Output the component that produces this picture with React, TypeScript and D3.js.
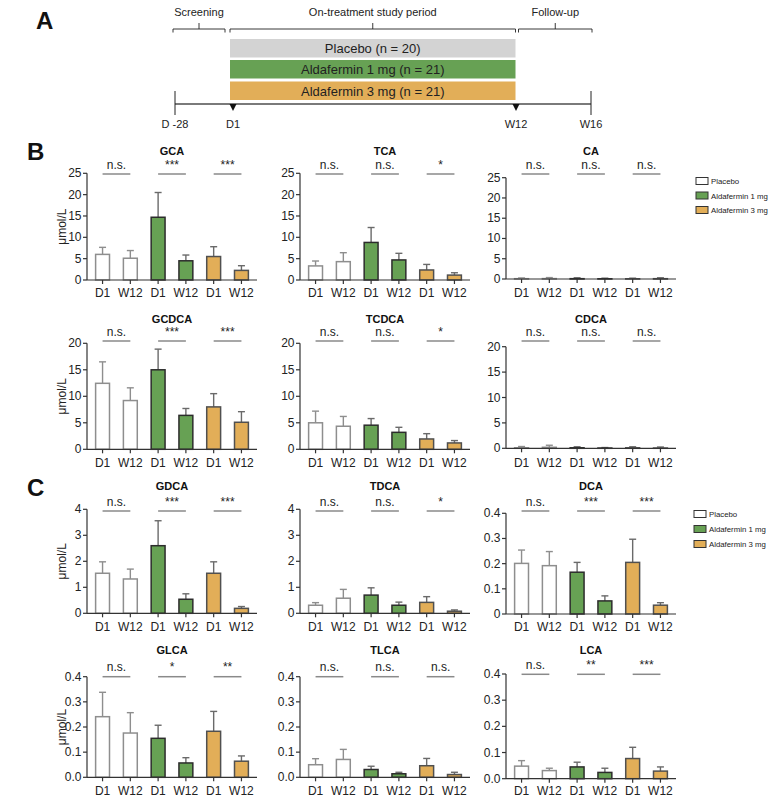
import React from "react";
import * as d3 from "d3";

const FONT = "'Liberation Sans', Arial, Helvetica, sans-serif";

// ---- Data ----
const categories = ["D1", "W12", "D1", "W12", "D1", "W12"];
const groups = ["Placebo", "Aldafermin 1 mg", "Aldafermin 3 mg"];
const groupOfBar = [0, 0, 1, 1, 2, 2];

const panelNames = ["GCA", "TCA", "CA", "GCDCA", "TCDCA", "CDCA", "GDCA", "TDCA", "DCA", "GLCA", "TLCA", "LCA"];

const gcaMean = [6.0, 5.1, 14.7, 4.5, 5.5, 2.25];
const gcaErr = [1.65, 1.8, 5.8, 1.35, 2.3, 1.1];
const tcaMean = [3.3, 4.3, 8.8, 4.7, 2.35, 1.15];
const tcaErr = [1.15, 2.1, 3.5, 1.55, 1.3, 0.55];
const caMean = [0.08, 0.1, 0.08, 0.06, 0.05, 0.08];
const caErr = [0.17, 0.25, 0.22, 0.14, 0.15, 0.22];
const gcdcaMean = [12.45, 9.2, 15.0, 6.4, 8.0, 5.1];
const gcdcaErr = [4.05, 2.4, 3.9, 1.3, 2.5, 2.0];
const tcdcaMean = [5.0, 4.35, 4.55, 3.2, 1.95, 1.2];
const tcdcaErr = [2.2, 1.85, 1.25, 0.95, 1.0, 0.45];
const cdcaMean = [0.1, 0.2, 0.1, 0.05, 0.1, 0.05];
const cdcaErr = [0.25, 0.4, 0.2, 0.1, 0.2, 0.2];
const gdcaMean = [1.54, 1.32, 2.6, 0.54, 1.54, 0.19];
const gdcaErr = [0.44, 0.38, 0.96, 0.21, 0.44, 0.07];
const tdcaMean = [0.31, 0.58, 0.7, 0.31, 0.42, 0.08];
const tdcaErr = [0.1, 0.34, 0.28, 0.12, 0.22, 0.05];
const dcaMean = [0.201, 0.192, 0.166, 0.052, 0.205, 0.035];
const dcaErr = [0.053, 0.056, 0.039, 0.02, 0.092, 0.01];
const glcaMean = [0.241, 0.176, 0.155, 0.057, 0.183, 0.064];
const glcaErr = [0.097, 0.081, 0.052, 0.021, 0.079, 0.021];
const tlcaMean = [0.05, 0.071, 0.031, 0.014, 0.046, 0.011];
const tlcaErr = [0.024, 0.04, 0.013, 0.006, 0.029, 0.009];
const lcaMean = [0.048, 0.031, 0.045, 0.024, 0.077, 0.029];
const lcaErr = [0.021, 0.009, 0.018, 0.016, 0.043, 0.016];

const panelMeans = [gcaMean, tcaMean, caMean, gcdcaMean, tcdcaMean, cdcaMean, gdcaMean, tdcaMean, dcaMean, glcaMean, tlcaMean, lcaMean];
const panelErrs = [gcaErr, tcaErr, caErr, gcdcaErr, tcdcaErr, cdcaErr, gdcaErr, tdcaErr, dcaErr, glcaErr, tlcaErr, lcaErr];

const panelSig = [
  ["n.s.", "***", "***"],
  ["n.s.", "n.s.", "*"],
  ["n.s.", "n.s.", "n.s."],
  ["n.s.", "***", "***"],
  ["n.s.", "n.s.", "*"],
  ["n.s.", "n.s.", "n.s."],
  ["n.s.", "***", "***"],
  ["n.s.", "n.s.", "*"],
  ["n.s.", "***", "***"],
  ["n.s.", "*", "**"],
  ["n.s.", "n.s.", "n.s."],
  ["n.s.", "**", "***"],
];

const yMaxB1 = 25;
const yTicksB1 = [0, 5, 10, 15, 20, 25];
const yMaxB2 = 20;
const yTicksB2 = [0, 5, 10, 15, 20];
const yMaxC1 = 4;
const yTicksC1 = [0, 1, 2, 3, 4];
const yMaxSmall = 0.4;
const yTicksSmall = [0, 0.1, 0.2, 0.3, 0.4];

const panelYMax = [yMaxB1, yMaxB1, yMaxB1, yMaxB2, yMaxB2, yMaxB2, yMaxC1, yMaxC1, yMaxSmall, yMaxSmall, yMaxSmall, yMaxSmall];
const panelTicks = [yTicksB1, yTicksB1, yTicksB1, yTicksB2, yTicksB2, yTicksB2, yTicksC1, yTicksC1, yTicksSmall, yTicksSmall, yTicksSmall, yTicksSmall];
const fmtInt = (d: number) => String(d);
const fmtDcaTick = (d: number) => (d === 0 ? "0" : d.toFixed(1));
const fmtOne = (d: number) => d.toFixed(1);
const panelFmt = [fmtInt, fmtInt, fmtInt, fmtInt, fmtInt, fmtInt, fmtInt, fmtInt, fmtDcaTick, fmtOne, fmtOne, fmtOne];

const timelineLabels = ["D -28", "D1", "W12", "W16"];
const timelineDays = [-28, 1, 84, 112];
const armLabels = ["Placebo (n = 20)", "Aldafermin 1 mg (n = 21)", "Aldafermin 3 mg (n = 21)"];
const periodLabels = ["Screening", "On-treatment study period", "Follow-up"];

// ---- Styles ----
const groupFill = ["#ffffff", "#67a154", "#e2ae58"];
const groupStroke = ["#8e8e8e", "#2c2c2c", "#505050"];
const errColor = ["#8e8e8e", "#6a6a6a", "#6a6a6a"];
const armFill = ["#d3d3d3", "#67a154", "#e2ae58"];

// ---- Layout ----
const colX = [87, 300, 506];
const PW = 170;
const rows = [
  { title: 155, sigText: 169, sigLine: 174, top: 173.3, bottom: 280, xlab: 297 },
  { title: 323, sigText: 336, sigLine: 341, top: 343.3, bottom: 449.3, xlab: 467 },
  { title: 490, sigText: 506, sigLine: 511, top: 509.3, bottom: 613.3, xlab: 631 },
  { title: 654, sigText: 671, sigLine: 676.7, top: 676.7, bottom: 777.3, xlab: 795 },
];
const col3Override = [
  { top: 177.7, bottom: 279 },
  { top: 346.7, bottom: 448.3 },
  { top: 513.3, bottom: 614 },
  { top: 674, bottom: 778.7, sigText: 669, sigLine: 674.3 },
];

function Panel({ idx }: { idx: number }) {
  const r = Math.floor(idx / 3);
  const c = idx % 3;
  const row = { ...rows[r], ...(c === 2 ? col3Override[r] : {}) } as any;
  const x0 = colX[c];
  const xb = d3.scaleBand<number>().domain(d3.range(6)).range([x0, x0 + PW]).paddingInner(0.5).paddingOuter(0.31);
  const y = d3.scaleLinear().domain([0, panelYMax[idx]]).range([row.bottom, row.top]);
  const means = panelMeans[idx];
  const errs = panelErrs[idx];
  const bw = xb.bandwidth();
  const cx = (i: number) => (xb(i) as number) + bw / 2;
  return (
    <g>
      <text x={x0 + PW / 2} y={row.title} textAnchor="middle" fontSize={11} fontWeight="bold" fontFamily={FONT} fill="#111">
        {panelNames[idx]}
      </text>
      {panelSig[idx].map((s, g) => {
        const a = cx(g * 2);
        const b = cx(g * 2 + 1);
        return (
          <g key={g}>
            <line x1={a} x2={b} y1={row.sigLine} y2={row.sigLine} stroke="#8a8a8a" strokeWidth={1.5} />
            <text x={(a + b) / 2} y={row.sigText} textAnchor="middle" fontSize={12} fontFamily={FONT} fill="#222">
              {s}
            </text>
          </g>
        );
      })}
      {means.map((m, i) => {
        const g = groupOfBar[i];
        const top = y(m);
        const et = y(m + errs[i]);
        return (
          <g key={i}>
            <line x1={cx(i)} x2={cx(i)} y1={top} y2={et} stroke={errColor[g]} strokeWidth={1.4} />
            <line x1={cx(i) - 3.5} x2={cx(i) + 3.5} y1={et} y2={et} stroke={errColor[g]} strokeWidth={1.4} />
            <rect x={xb(i)} y={top} width={bw} height={Math.max(0, row.bottom - top)} fill={groupFill[g]} stroke={groupStroke[g]} strokeWidth={1.5} />
          </g>
        );
      })}
      <line x1={x0} x2={x0} y1={row.top} y2={row.bottom} stroke="#333" strokeWidth={1.2} />
      {panelTicks[idx].map((t) => (
        <g key={t}>
          <line x1={x0 - 4} x2={x0} y1={y(t)} y2={y(t)} stroke="#333" strokeWidth={1.2} />
          <text x={x0 - 5.5} y={y(t) + 4} textAnchor="end" fontSize={12} fontFamily={FONT} fill="#222">
            {panelFmt[idx](t)}
          </text>
        </g>
      ))}
      <line x1={x0} x2={x0 + PW} y1={row.bottom} y2={row.bottom} stroke="#333" strokeWidth={1.2} />
      {categories.map((cat, i) => (
        <g key={i}>
          <line x1={cx(i)} x2={cx(i)} y1={row.bottom} y2={row.bottom + 4} stroke="#333" strokeWidth={1.2} />
          <text x={cx(i)} y={row.xlab} textAnchor="middle" fontSize={12} fontFamily={FONT} fill="#222">
            {cat}
          </text>
        </g>
      ))}
      {c === 0 && (
        <text transform={`translate(66,${(row.top + row.bottom) / 2}) rotate(-90)`} textAnchor="middle" fontSize={12} fontFamily={FONT} fill="#222">
          μmol/L
        </text>
      )}
    </g>
  );
}

function Legend({ x, y, gap }: { x: number; y: number; gap: number }) {
  return (
    <g>
      {groups.map((g, i) => (
        <g key={g}>
          <rect x={x} y={y + i * gap - 3.5} width={12} height={7} fill={groupFill[i]} stroke="#333" strokeWidth={1} />
          <text x={x + 15} y={y + i * gap + 3} fontSize={7.8} fontFamily={FONT} fill="#222">
            {g}
          </text>
        </g>
      ))}
    </g>
  );
}

function Timeline() {
  // study schedule is drawn schematically, not to scale
  const tx = d3.scaleLinear().domain(timelineDays).range([175, 233, 516, 591]);
  const xD1 = tx(timelineDays[1]);
  const xW12 = tx(timelineDays[2]);
  const xL = tx(timelineDays[0]);
  const xR = tx(timelineDays[3]);
  const barL = xD1 - 3;
  const barR = xW12 - 0.5;
  const brackets = [
    [xL - 2, xD1 - 8],
    [barL, barR],
    [barR + 3, xR + 1],
  ];
  const armY = [39, 60, 81.5];
  return (
    <g fontFamily={FONT}>
      <text x={36} y={29} fontSize={24} fontWeight="bold" fill="#111">A</text>
      {brackets.map(([a, b], i) => (
        <g key={i}>
          <path d={`M${a},32.5 V29 H${b} V32.5 M${(a + b) / 2},29 V23`} fill="none" stroke="#222" strokeWidth={0.9} />
          <text x={(a + b) / 2} y={16} textAnchor="middle" fontSize={11} fill="#222">
            {periodLabels[i]}
          </text>
        </g>
      ))}
      {armLabels.map((lab, i) => (
        <g key={i}>
          <rect x={barL} y={armY[i]} width={barR - barL} height={18.5} fill={armFill[i]} />
          <text x={(barL + barR) / 2} y={armY[i] + 14} textAnchor="middle" fontSize={13} fill="#222">
            {lab}
          </text>
        </g>
      ))}
      <line x1={xL} x2={xR} y1={104} y2={104} stroke="#7a7a7a" strokeWidth={2} />
      <line x1={xL} x2={xL} y1={91} y2={115} stroke="#222" strokeWidth={1} />
      <line x1={xR} x2={xR} y1={91} y2={115} stroke="#222" strokeWidth={1} />
      {[xD1, xW12].map((x, i) => (
        <path key={i} d={`M${x - 3.5},104 L${x + 3.5},104 L${x},111 Z`} fill="#111" />
      ))}
      {timelineDays.map((d, i) => (
        <text key={i} x={tx(d)} y={128} textAnchor="middle" fontSize={11} fill="#222">
          {timelineLabels[i]}
        </text>
      ))}
    </g>
  );
}

export default function App() {
  return (
    <svg width={771} height={802} viewBox="0 0 771 802" style={{ position: "absolute", left: 0, top: 0, background: "#fff" }}>
      <rect width={771} height={802} fill="#fff" />
      <Timeline />
      <text x={27} y={160} fontSize={24} fontWeight="bold" fontFamily={FONT} fill="#111">B</text>
      <text x={27} y={496} fontSize={24} fontWeight="bold" fontFamily={FONT} fill="#111">C</text>
      {panelNames.map((_, i) => (
        <Panel key={i} idx={i} />
      ))}
      <Legend x={696} y={181} gap={14.5} />
      <Legend x={694} y={514} gap={15} />
    </svg>
  );
}
